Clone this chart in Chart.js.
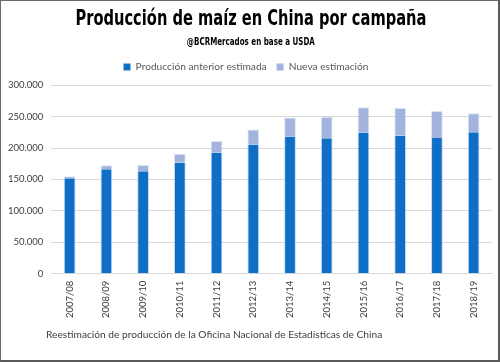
<!DOCTYPE html>
<html>
<head>
<meta charset="utf-8">
<script src="https://cdn.jsdelivr.net/npm/chart.js@4/dist/chart.umd.min.js"></script>
<style>
  html, body { margin: 0; padding: 0; background: #fff; }
  #frame { position: relative; width: 500px; height: 362px; box-sizing: border-box;
           border-top: 1px solid #6b6b6b; border-left: 1px solid #6b6b6b;
           border-right: 2px solid #5a5a5a; border-bottom: 2px solid #5a5a5a; overflow: hidden; }
  #wrap { position: absolute; left: -1px; top: -1px; width: 500px; height: 362px; }
  .hd { position: absolute; left: 0; width: 500px; text-align: center; white-space: nowrap; color: #000;
        font-family: 'DejaVu Sans Condensed', 'DejaVu Sans', sans-serif; font-weight: bold; }
  .hd span { display: inline-block; transform-origin: center center; }
  #title { top: 4px; font-size: 22px; line-height: 26px; }
  #subtitle { top: 34px; font-size: 11px; line-height: 14px; }
  #note { position: absolute; left: 45px; top: 327px; font-family: Lato, sans-serif; font-size: 10.2px; color: #404040; white-space: nowrap; }
</style>
</head>
<body>
<div id="frame">
  <div id="wrap"><canvas id="c" width="500" height="362"></canvas></div>
  <div class="hd" id="title"><span>Producción de maíz en China por campaña</span></div>
  <div class="hd" id="subtitle"><span>@BCRMercados en base a USDA</span></div>
  <div id="note">Reestimación de producción de la Oficina Nacional de Estadísticas de China</div>
</div>
<script>
const categories = ["2007/08","2008/09","2009/10","2010/11","2011/12","2012/13","2013/14","2014/15","2015/16","2016/17","2017/18","2018/19"];
// thousand tonnes
const previousEstimate = [152000, 166000, 163000, 177000, 192800, 205600, 218500, 215600, 224600, 219600, 215900, 225000];
const newEstimateIncrement = [3000, 6500, 10000, 13800, 18500, 23700, 30000, 34200, 40400, 44000, 43100, 30500];
const yTicks = [0, 50000, 100000, 150000, 200000, 250000, 300000];

const fmt = v => v === 0 ? "0" : v.toLocaleString("de-DE");

// squeeze the headings horizontally to the condensed width of the original
function fitWidth(id, target) {
  const s = document.querySelector('#' + id + ' span');
  const w = s.getBoundingClientRect().width;
  s.style.transform = 'scaleX(' + (target / w) + ')';
}
fitWidth('title', 351);
fitWidth('subtitle', 128);

const legendSpacer = {
  id: 'legendSpacer',
  beforeInit(chart) {
    const orig = chart.legend.fit;
    chart.legend.fit = function () { orig.bind(chart.legend)(); this.height += 3; };
  }
};

new Chart(document.getElementById("c"), {
  type: "bar",
  data: {
    labels: categories,
    datasets: [
      { label: "Producción anterior estimada", data: previousEstimate, backgroundColor: "#0f6fc6",
        borderColor: "rgba(160,190,235,0.6)", borderWidth: {left:1,right:1,top:0,bottom:0} },
      { label: "Nueva estimación", data: newEstimateIncrement, backgroundColor: "#a2b4de",
        borderColor: "rgba(210,220,240,0.8)", borderWidth: {left:1,right:1,top:1,bottom:0} }
    ]
  },
  plugins: [legendSpacer],
  options: {
    responsive: false,
    animation: false,
    layout: { padding: { left: 0, right: 8, top: 52, bottom: 37 } },
    datasets: { bar: { categoryPercentage: 1, barPercentage: 0.32 } },
    plugins: {
      title: { display: false },
      legend: { position: "top",
        labels: { boxWidth: 7, boxHeight: 7, padding: 10, color: "#595959",
          font: { family: "Lato, sans-serif", size: 10.2 } } },
      tooltip: { enabled: false }
    },
    scales: {
      x: { stacked: true,
        grid: { display: false, drawTicks: false },
        border: { color: "#d9d9d9" },
        ticks: { color: "#404040", font: { family: "Lato, sans-serif", size: 9.5 }, minRotation: 90, maxRotation: 90, padding: 7 } },
      y: { stacked: true, min: 0, max: 300000,
        afterBuildTicks: s => { s.ticks = yTicks.map(v => ({ value: v })); },
        grid: { color: "#d9d9d9", drawTicks: false },
        border: { display: false },
        ticks: { color: "#404040", font: { family: "Lato, sans-serif", size: 9.5 }, padding: 8, callback: v => fmt(v) } }
    }
  }
});
</script>
</body>
</html>
